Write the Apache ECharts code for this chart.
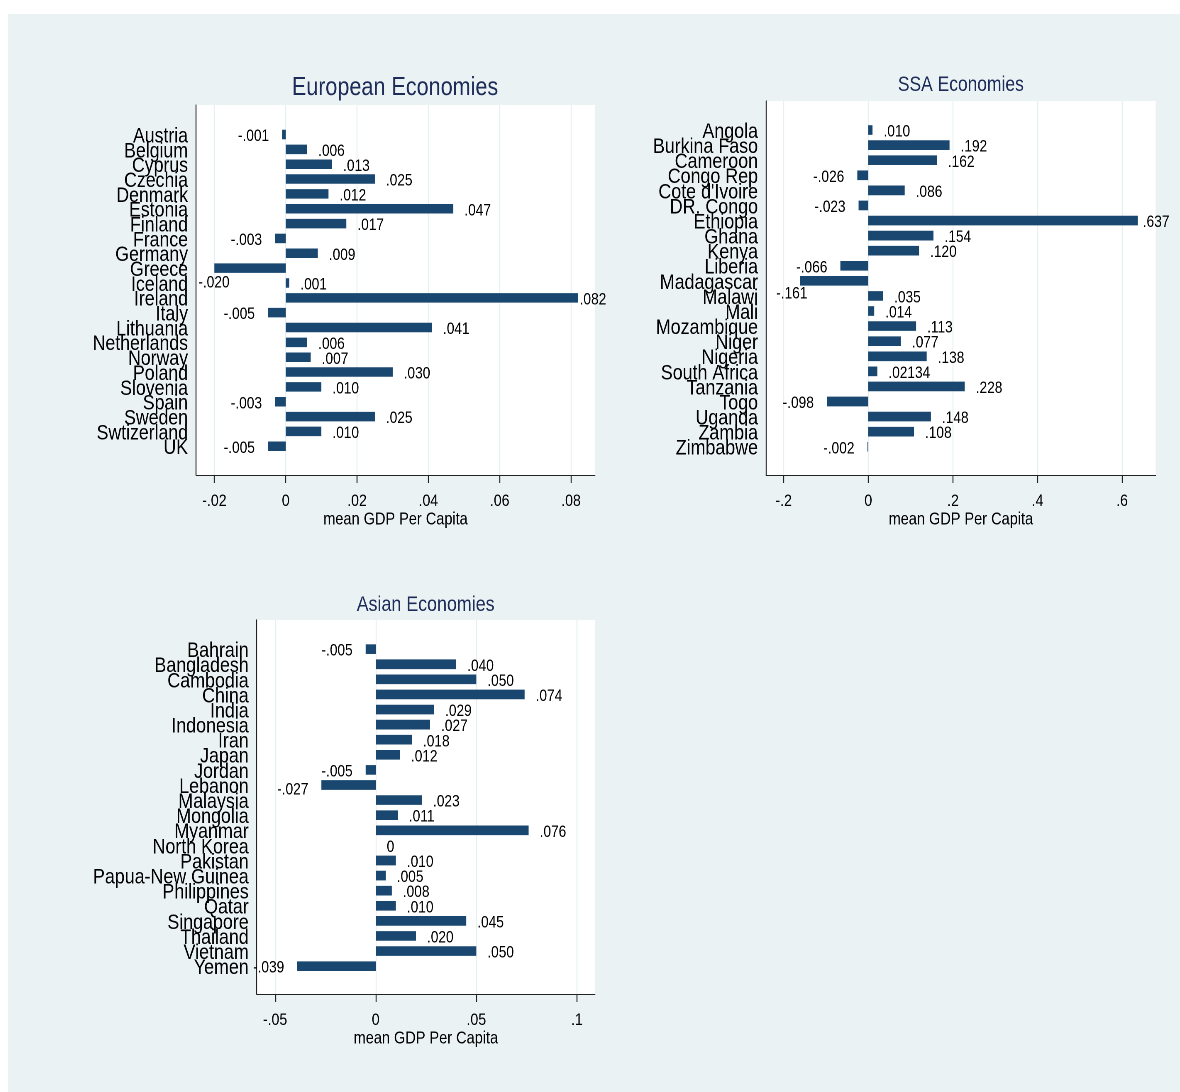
<!DOCTYPE html>
<html>
<head>
<meta charset="utf-8">
<title>mean GDP Per Capita</title>
<script src="https://cdn.jsdelivr.net/npm/echarts@6/dist/echarts.min.js"></script>
<style>
  html, body { margin: 0; padding: 0; background: #ffffff; overflow: hidden; }
  #chart { position: absolute; left: 8px; top: 14px; height: 1078px; transform-origin: 0 0; }
</style>
</head>
<body>
<div id="chart"></div>
<script>
// ---- data ----
const eurCountries = ['Austria', 'Belgium', 'Cyprus', 'Czechia', 'Denmark', 'Estonia', 'Finland', 'France',
  'Germany', 'Greece', 'Iceland', 'Ireland', 'Italy', 'Lithuania', 'Netherlands', 'Norway', 'Poland',
  'Slovenia', 'Spain', 'Sweden', 'Swtizerland', 'UK'];
const eurValues = [-0.001, 0.006, 0.013, 0.025, 0.012, 0.047, 0.017, -0.003, 0.009, -0.020, 0.001, 0.082,
  -0.005, 0.041, 0.006, 0.007, 0.030, 0.010, -0.003, 0.025, 0.010, -0.005];
const eurTicks = [-0.02, 0, 0.02, 0.04, 0.06, 0.08];

const ssaCountries = ['Angola', 'Burkina Faso', 'Cameroon', 'Congo Rep', "Cote d'Ivoire", 'DR. Congo', 'Ethiopia',
  'Ghana', 'Kenya', 'Liberia', 'Madagascar', 'Malawi', 'Mali', 'Mozambique', 'Niger', 'Nigeria', 'South Africa',
  'Tanzania', 'Togo', 'Uganda', 'Zambia', 'Zimbabwe'];
const ssaValues = [0.010, 0.192, 0.162, -0.026, 0.086, -0.023, 0.637, 0.154, 0.120, -0.066, -0.161, 0.035, 0.014,
  0.113, 0.077, 0.138, 0.02134, 0.228, -0.098, 0.148, 0.108, -0.002];
const ssaTicks = [-0.2, 0, 0.2, 0.4, 0.6];

const asiaCountries = ['Bahrain', 'Bangladesh', 'Cambodia', 'China', 'India', 'Indonesia', 'Iran', 'Japan', 'Jordan',
  'Lebanon', 'Malaysia', 'Mongolia', 'Myanmar', 'North Korea', 'Pakistan', 'Papua-New Guinea', 'Philippines',
  'Qatar', 'Singapore', 'Thailand', 'Vietnam', 'Yemen'];
const asiaValues = [-0.005, 0.040, 0.050, 0.074, 0.029, 0.027, 0.018, 0.012, -0.005, -0.027, 0.023, 0.011, 0.076,
  0, 0.010, 0.005, 0.008, 0.010, 0.045, 0.020, 0.050, -0.039];
const asiaTicks = [-0.05, 0, 0.05, 0.1];

const axisTitle = 'mean GDP Per Capita';

// ---- styling ----
// The canvas is laid out wide and squeezed horizontally, which gives the condensed lettering.
const SX = 0.83;
const W = 1172, H = 1078;
const X = v => v / SX;

const FONT = "'Liberation Sans', Arial, sans-serif";
const BG = '#EAF2F3';
const BAR = '#1A476F';
const TITLE = '#1E2C5A';
const AXIS = '#222222';
const GRIDLINE = '#E6EFF2';

// Stata-style number text: drop the leading zero, three decimals unless more are carried
function numText(v) {
  if (v === 0) return '0';
  const s = (Math.round(v * 1000) / 1000 === v) ? v.toFixed(3) : String(v);
  return s.replace(/^(-?)0\./, '$1.');
}
function tickText(v) {
  if (Math.abs(v) < 1e-12) return '0';
  return String(+v.toFixed(6)).replace(/^(-?)0\./, '$1.');
}

// Panels: frame box (axes, ticks, gridlines) and the inner band area used by the bars
const panels = [
  {
    title: 'European Economies', titleSize: 26, titleX: 387, titleY: 61,
    cats: eurCountries, vals: eurValues, ticks: eurTicks, min: -0.02515, max: 0.08673,
    frame: { left: 188, top: 91, width: 399, height: 370 },
    bars: { top: 113.1, height: 326.6 }, catSize: 21.3,
    labelTweaks: {
      Greece: { position: 'insideLeft', distance: 0, offset: [-16, 15] },
      Ireland: { distance: 1.5 }
    }
  },
  {
    title: 'SSA Economies', titleSize: 21, titleX: 952.8, titleY: 60.5,
    cats: ssaCountries, vals: ssaValues, ticks: ssaTicks, min: -0.2418, max: 0.6794,
    frame: { left: 758, top: 87, width: 389.7, height: 374 },
    bars: { top: 108.5, height: 331.8 }, catSize: 21.5,
    labelTweaks: {
      Madagascar: { position: 'insideLeft', distance: 0, offset: [-24, 13] },
      Ethiopia: { distance: 5 }
    }
  },
  {
    title: 'Asian Economies', titleSize: 21.5, titleX: 417.6, titleY: 580,
    cats: asiaCountries, vals: asiaValues, ticks: asiaTicks, min: -0.05915, max: 0.109,
    frame: { left: 248.7, top: 606, width: 338.3, height: 374 },
    bars: { top: 627.6, height: 332.1 }, catSize: 21.5,
    labelTweaks: {
      Lebanon: { offset: [0, 5] }
    }
  }
];

const option = {
  backgroundColor: BG,
  animation: false,
  textStyle: { fontFamily: FONT },
  title: [], grid: [], xAxis: [], yAxis: [], series: []
};

panels.forEach((p, i) => {
  const fg = i * 2, bg = i * 2 + 1;

  option.title.push({
    text: p.title, left: X(p.titleX), top: p.titleY, textAlign: 'center', padding: 0,
    textStyle: { fontFamily: FONT, fontSize: p.titleSize, fontWeight: 'normal', color: TITLE }
  });

  // frame grid: white plot region, x axis with ticks/labels/name, left axis line
  option.grid.push({
    left: X(p.frame.left), top: p.frame.top, width: X(p.frame.width), height: p.frame.height,
    show: true, backgroundColor: '#ffffff', borderWidth: 0
  });
  // bar grid: the band area inside the frame
  option.grid.push({
    left: X(p.frame.left), top: p.bars.top, width: X(p.frame.width), height: p.bars.height,
    show: false
  });

  option.xAxis.push({
    gridIndex: fg, type: 'value', min: p.min, max: p.max,
    axisLine: { show: true, onZero: false, lineStyle: { color: AXIS, width: 1 } },
    axisTick: { show: true, length: 8, inside: false, customValues: p.ticks, lineStyle: { color: AXIS, width: X(1) } },
    axisLabel: {
      show: true, customValues: p.ticks, formatter: tickText, margin: 18,
      fontFamily: FONT, fontSize: 17, color: '#000'
    },
    splitLine: { show: false },
    name: axisTitle, nameLocation: 'middle', nameGap: 34,
    nameTextStyle: { fontFamily: FONT, fontSize: 17.5, color: '#000' }
  });
  option.yAxis.push({
    gridIndex: fg, type: 'value', min: 0, max: 1,
    axisLine: { show: true, onZero: false, lineStyle: { color: AXIS, width: X(1) } },
    axisTick: { show: false }, axisLabel: { show: false }, splitLine: { show: false }
  });

  option.xAxis.push({
    gridIndex: bg, type: 'value', min: p.min, max: p.max, show: false,
    splitLine: { show: false }
  });
  option.yAxis.push({
    gridIndex: bg, type: 'category', data: p.cats, inverse: true,
    axisLine: { show: false }, axisTick: { show: false }, splitLine: { show: false },
    axisLabel: {
      show: true, interval: 0, margin: X(8),
      formatter: name => '{c|' + name + '}',
      rich: { c: { fontFamily: FONT, fontSize: p.catSize, color: '#000', padding: [4, 0, 0, 0] } }
    }
  });

  // vertical gridlines at the tick values, beneath the bars
  option.series.push({
    type: 'line', xAxisIndex: fg, yAxisIndex: fg, data: [], silent: true, z: 1,
    markLine: {
      silent: true, symbol: 'none', z: 1, label: { show: false },
      lineStyle: { color: GRIDLINE, width: X(1), type: 'solid' },
      data: p.ticks.map(t => ({ xAxis: t }))
    }
  });

  option.series.push({
    type: 'bar', xAxisIndex: bg, yAxisIndex: bg, barWidth: '64%', z: 3,
    itemStyle: { color: BAR },
    data: p.vals.map((v, k) => {
      const base = { position: v < 0 ? 'left' : 'right', distance: X(v < 0 ? 13 : 11), offset: [0, 2] };
      const tweak = Object.assign({}, p.labelTweaks[p.cats[k]] || {});
      if (tweak.offset) tweak.offset = [X(tweak.offset[0]), tweak.offset[1]];
      if (tweak.distance !== undefined) tweak.distance = X(tweak.distance);
      return { value: v, label: Object.assign(base, tweak) };
    }),
    label: {
      show: true, formatter: d => numText(d.value),
      fontFamily: FONT, fontSize: 16.5, color: '#000'
    }
  });
});

const el = document.getElementById('chart');
el.style.width = X(W) + 'px';
el.style.transform = 'scaleX(' + SX + ')';
const chart = echarts.init(el, null, { renderer: 'canvas', devicePixelRatio: 2, width: X(W), height: H });
chart.setOption(option);
</script>
</body>
</html>
